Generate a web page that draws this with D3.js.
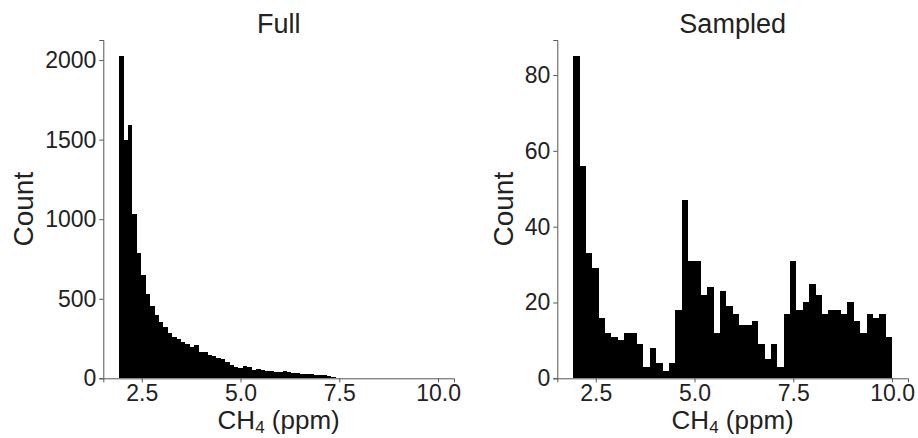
<!DOCTYPE html>
<html>
<head>
<meta charset="utf-8">
<script src="https://cdn.jsdelivr.net/npm/d3@7"></script>
<style>
  body { margin: 0; background: #fff; }
  text { font-family: "Liberation Sans", Arial, sans-serif; fill: #222; }
  .tick line, .domain { stroke: #555; }
</style>
</head>
<body>
<svg id="chart" width="918" height="438"></svg>
<script>
// bin ranges (ppm) and counts
const fullRange = [1.93, 7.52];
const fullCounts = [2025, 1495, 1590, 1030, 785, 650, 530, 455, 400, 355,
  320, 287, 262, 245, 230, 216, 198, 208, 165, 163,
  148, 140, 127, 119, 100, 86, 70, 63, 78, 72,
  55, 56, 52, 48, 45, 42, 40, 47, 37, 34,
  31, 30, 27, 26, 21, 19, 18, 15, 6, 3];

const sampledRange = [1.93, 10.0];
const sampledCounts = [85, 56, 33, 29, 16, 12, 11, 10, 12, 12,
  9, 3, 8, 4, 2, 4, 18, 47, 31, 31,
  22, 24, 12, 23, 19, 17, 14, 14, 15, 9,
  5, 9, 3, 17, 31, 18, 20, 25, 22, 17,
  18, 18, 17, 20, 15, 12, 17, 16, 17, 11];

const xTicks = [2.5, 5.0, 7.5, 10.0];
const fullYTicks = [0, 500, 1000, 1500, 2000];
const sampledYTicks = [0, 20, 40, 60, 80];

const svg = d3.select("#chart");

// shared x limits like matplotlib sharex with 5% margins
const xLo = Math.min(fullRange[0], sampledRange[0]);
const xHi = Math.max(fullRange[1], sampledRange[1]);
const xPad = (xHi - xLo) * 0.05;

function drawPanel(left, title, range, counts, yTicks, labelGap) {
  const w = 350.7, top = 40, bottom = 378.3;
  const x = d3.scaleLinear().domain([xLo - xPad, xHi + xPad]).range([left, left + w]);
  const y = d3.scaleLinear().domain([0, d3.max(counts) * 1.05]).range([bottom, top]);
  const step = (range[1] - range[0]) / counts.length;
  const bins = counts.map((c, i) => ({x0: range[0] + i * step, x1: range[0] + (i + 1) * step, c: c}));

  svg.append("g").selectAll("rect")
    .data(bins)
    .enter()
    .append("rect")
    .attr("shape-rendering", "crispEdges")
    .attr("x", d => Math.round(x(d.x0)))
    .attr("width", d => Math.round(x(d.x1)) - Math.round(x(d.x0)))
    .attr("y", d => Math.round(y(d.c)))
    .attr("height", d => Math.round(y(0)) - Math.round(y(d.c)))
    .attr("fill", "#000");

  const xAxis = svg.append("g")
    .attr("transform", "translate(0," + bottom + ")")
    .call(d3.axisBottom(x).tickValues(xTicks).tickFormat(d3.format(".1f")).tickSizeOuter(0).tickSize(4).tickPadding(2));
  xAxis.selectAll("text").style("font-size", "23px").attr("fill", "#222");

  const yAxis = svg.append("g")
    .attr("transform", "translate(" + left + ",0)")
    .call(d3.axisLeft(y).tickValues(yTicks).tickFormat(d3.format("d")).tickSizeOuter(0).tickSize(4).tickPadding(3));
  yAxis.selectAll("text").style("font-size", "23px").attr("fill", "#222");

  svg.append("text")
    .attr("x", left + w / 2).attr("y", 33)
    .attr("text-anchor", "middle")
    .style("font-size", "27px")
    .text(title);

  const xl = svg.append("text")
    .attr("x", left + w / 2).attr("y", 429)
    .attr("text-anchor", "middle")
    .style("font-size", "26px");
  xl.append("tspan").text("CH");
  xl.append("tspan").attr("dy", 4).style("font-size", "17px").text("4");
  xl.append("tspan").attr("dy", -4).text(" (ppm)");

  svg.append("text")
    .attr("transform", "translate(" + (left - labelGap) + "," + ((top + bottom) / 2) + ") rotate(-90)")
    .attr("text-anchor", "middle")
    .style("font-size", "28px")
    .text("Count");
}

drawPanel(103.3, "Full", fullRange, fullCounts, fullYTicks, 70);
drawPanel(557.3, "Sampled", sampledRange, sampledCounts, sampledYTicks, 44);
</script>
</body>
</html>
